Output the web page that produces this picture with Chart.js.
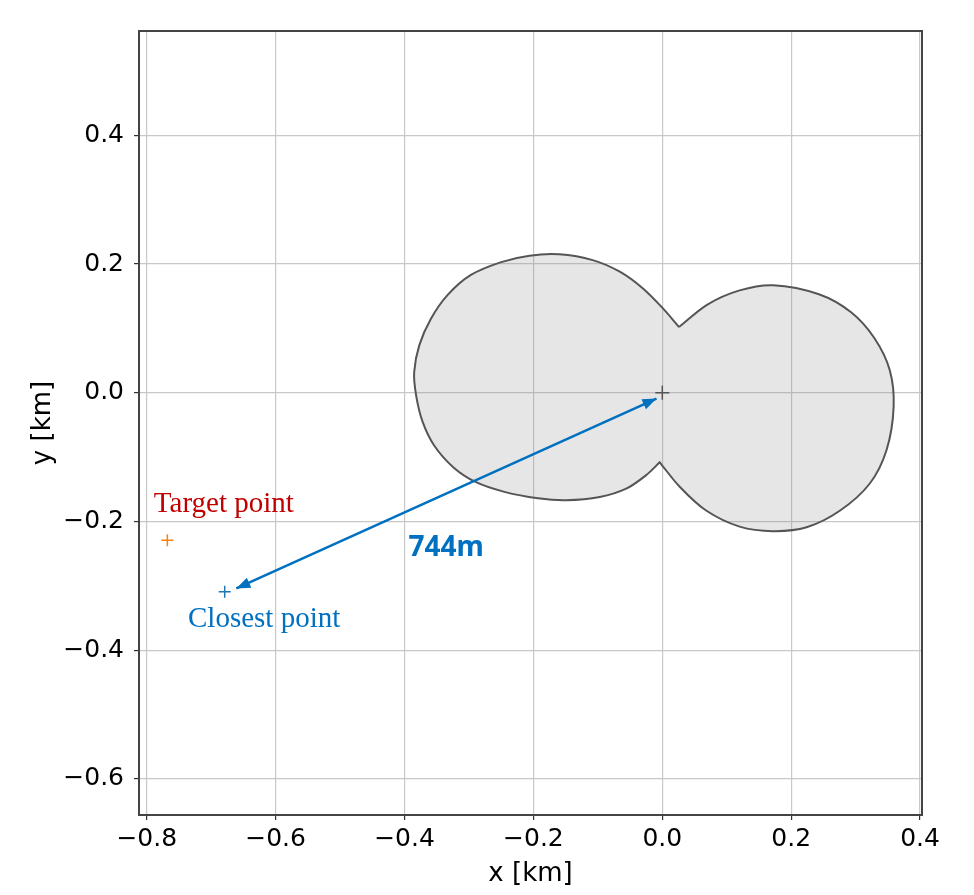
<!DOCTYPE html>
<html>
<head>
<meta charset="utf-8">
<script src="https://cdn.jsdelivr.net/npm/chart.js@4.4.1/dist/chart.umd.min.js"></script>
<style>
  html, body { margin: 0; padding: 0; background: #fff; }
  #wrap { width: 974px; height: 895px; position: relative; }
</style>
</head>
<body>
<div id="wrap"><canvas id="mapChart"></canvas></div>
<script>
// area outline in km (both lobes counter-clockwise)
const leftLobeX = [0.026, 0.001, -0.030, -0.066, -0.108, -0.160, -0.206, -0.250, -0.297, -0.333,
  -0.359, -0.377, -0.385, -0.382, -0.372, -0.354, -0.324, -0.289, -0.245, -0.193,
  -0.149, -0.097, -0.056, -0.025, -0.004];
const leftLobeY = [0.102, 0.131, 0.162, 0.188, 0.206, 0.215, 0.213, 0.203, 0.183, 0.152,
  0.115, 0.074, 0.032, -0.004, -0.045, -0.082, -0.116, -0.139, -0.154, -0.164,
  -0.167, -0.162, -0.149, -0.128, -0.108];
const rightLobeX = [-0.004, 0.027, 0.068, 0.120, 0.172, 0.224, 0.276, 0.322, 0.348, 0.359,
  0.353, 0.329, 0.293, 0.243, 0.172, 0.120, 0.070, 0.026];
const rightLobeY = [-0.108, -0.146, -0.183, -0.208, -0.215, -0.209, -0.183, -0.141, -0.089, -0.022,
  0.035, 0.085, 0.125, 0.153, 0.167, 0.159, 0.137, 0.102];

const centerPoint = [0.0, 0.0];
const targetPoint = [-0.768, -0.229];
const closestPoint = [-0.679, -0.309];

// distance arrow (closest point -> center)
const arrowX = [-0.661, -0.009];
const arrowY = [-0.304, -0.009];

const xTicks = [-0.8, -0.6, -0.4, -0.2, 0.0, 0.2, 0.4];
const yTicks = [-0.6, -0.4, -0.2, 0.0, 0.2, 0.4];

const blue = "#0070c0";
const darkRed = "#c00000";

const outlineX = leftLobeX.concat(rightLobeX);
const outlineY = leftLobeY.concat(rightLobeY);
const outline = outlineX.map((v, i) => ({ x: v, y: outlineY[i] }));

function fmtTick(v) {
  const s = Math.abs(v).toFixed(1);
  return v < -1e-9 ? "\u2212" + s : s;
}

function drawHead(ctx, tip, from) {
  const a = Math.atan2(tip.y - from.y, tip.x - from.x);
  const len = 14, half = 5.5;
  ctx.beginPath();
  ctx.moveTo(tip.x, tip.y);
  ctx.lineTo(tip.x - len * Math.cos(a) + half * Math.sin(a), tip.y - len * Math.sin(a) - half * Math.cos(a));
  ctx.lineTo(tip.x - len * Math.cos(a) - half * Math.sin(a), tip.y - len * Math.sin(a) + half * Math.cos(a));
  ctx.closePath();
  ctx.fill();
}

// arrow heads, annotation texts and the frame round the plot
const overlay = {
  id: "overlay",
  afterDatasetsDraw(chart) {
    const { ctx, chartArea, scales } = chart;
    const px = (v) => scales.x.getPixelForValue(v);
    const py = (v) => scales.y.getPixelForValue(v);
    ctx.save();
    const p0 = { x: px(arrowX[0]), y: py(arrowY[0]) };
    const p1 = { x: px(arrowX[1]), y: py(arrowY[1]) };
    ctx.fillStyle = blue;
    drawHead(ctx, p0, p1);
    drawHead(ctx, p1, p0);

    ctx.textBaseline = "alphabetic";
    ctx.textAlign = "left";
    ctx.font = "29px 'Liberation Serif'";
    ctx.fillStyle = darkRed;
    ctx.fillText("Target point", px(-0.789), py(-0.186));
    ctx.fillStyle = blue;
    ctx.fillText("Closest point", px(-0.736), py(-0.364));
    ctx.font = "bold 28px 'Noto Sans'";
    ctx.fillText("744m", px(-0.394), py(-0.254));

    ctx.strokeStyle = "#444";
    ctx.lineWidth = 2;
    ctx.strokeRect(chartArea.left, chartArea.top, chartArea.right - chartArea.left, chartArea.bottom - chartArea.top);
    ctx.restore();
  },
};

const tickFont = { family: "DejaVu Sans", size: 25 };
const titleFont = { family: "DejaVu Sans", size: 26 };

new Chart(document.getElementById("mapChart").getContext("2d"), {
  type: "scatter",
  data: {
    datasets: [
      {
        data: [{ x: centerPoint[0], y: centerPoint[1] }],
        pointStyle: "cross", pointRadius: 7, borderColor: "#555", borderWidth: 1.5,
      },
      {
        data: [{ x: targetPoint[0], y: targetPoint[1] }],
        pointStyle: "cross", pointRadius: 6, borderColor: "#ff7f0e", borderWidth: 1.5,
      },
      {
        data: [{ x: closestPoint[0], y: closestPoint[1] }],
        pointStyle: "cross", pointRadius: 6, borderColor: "#1f77b4", borderWidth: 1.5,
      },
      {
        data: arrowX.map((v, i) => ({ x: v, y: arrowY[i] })),
        showLine: true, pointRadius: 0, borderColor: blue, borderWidth: 2.5,
      },
      {
        data: outline,
        showLine: true, pointRadius: 0, tension: 0.33,
        borderColor: "#555", borderWidth: 2,
        backgroundColor: "rgba(128,128,128,0.2)", fill: "shape",
      },
    ],
  },
  options: {
    responsive: true,
    maintainAspectRatio: false,
    animation: false,
    layout: { padding: { left: 0, right: 52, top: 31, bottom: 0 } },
    plugins: { legend: { display: false }, tooltip: { enabled: false } },
    scales: {
      x: {
        type: "linear", min: -0.812, max: 0.403,
        afterBuildTicks: (s) => { s.ticks = xTicks.map((v) => ({ value: v })); },
        afterFit: (s) => { s.height = 80; },
        ticks: { callback: fmtTick, font: tickFont, color: "#000", padding: 4, maxRotation: 0, autoSkip: false },
        grid: { color: "#c8c8c8", lineWidth: 1.2, tickColor: "#333", tickLength: 5, tickWidth: 1.2 },
        border: { color: "#444", width: 2 },
        title: { display: true, text: "x [km]", font: titleFont, color: "#000", padding: { top: 0, bottom: 5 } },
      },
      y: {
        type: "linear", min: -0.656, max: 0.562,
        afterBuildTicks: (s) => { s.ticks = yTicks.map((v) => ({ value: v })); },
        afterFit: (s) => { s.width = 139; },
        ticks: { callback: fmtTick, font: tickFont, color: "#000", padding: 10, autoSkip: false },
        grid: { color: "#c8c8c8", lineWidth: 1.2, tickColor: "#333", tickLength: 5, tickWidth: 1.2 },
        border: { color: "#444", width: 2 },
        title: { display: true, text: "y [km]", font: titleFont, color: "#000", padding: { top: 28, bottom: 0 } },
      },
    },
  },
  plugins: [overlay],
});
</script>
</body>
</html>
